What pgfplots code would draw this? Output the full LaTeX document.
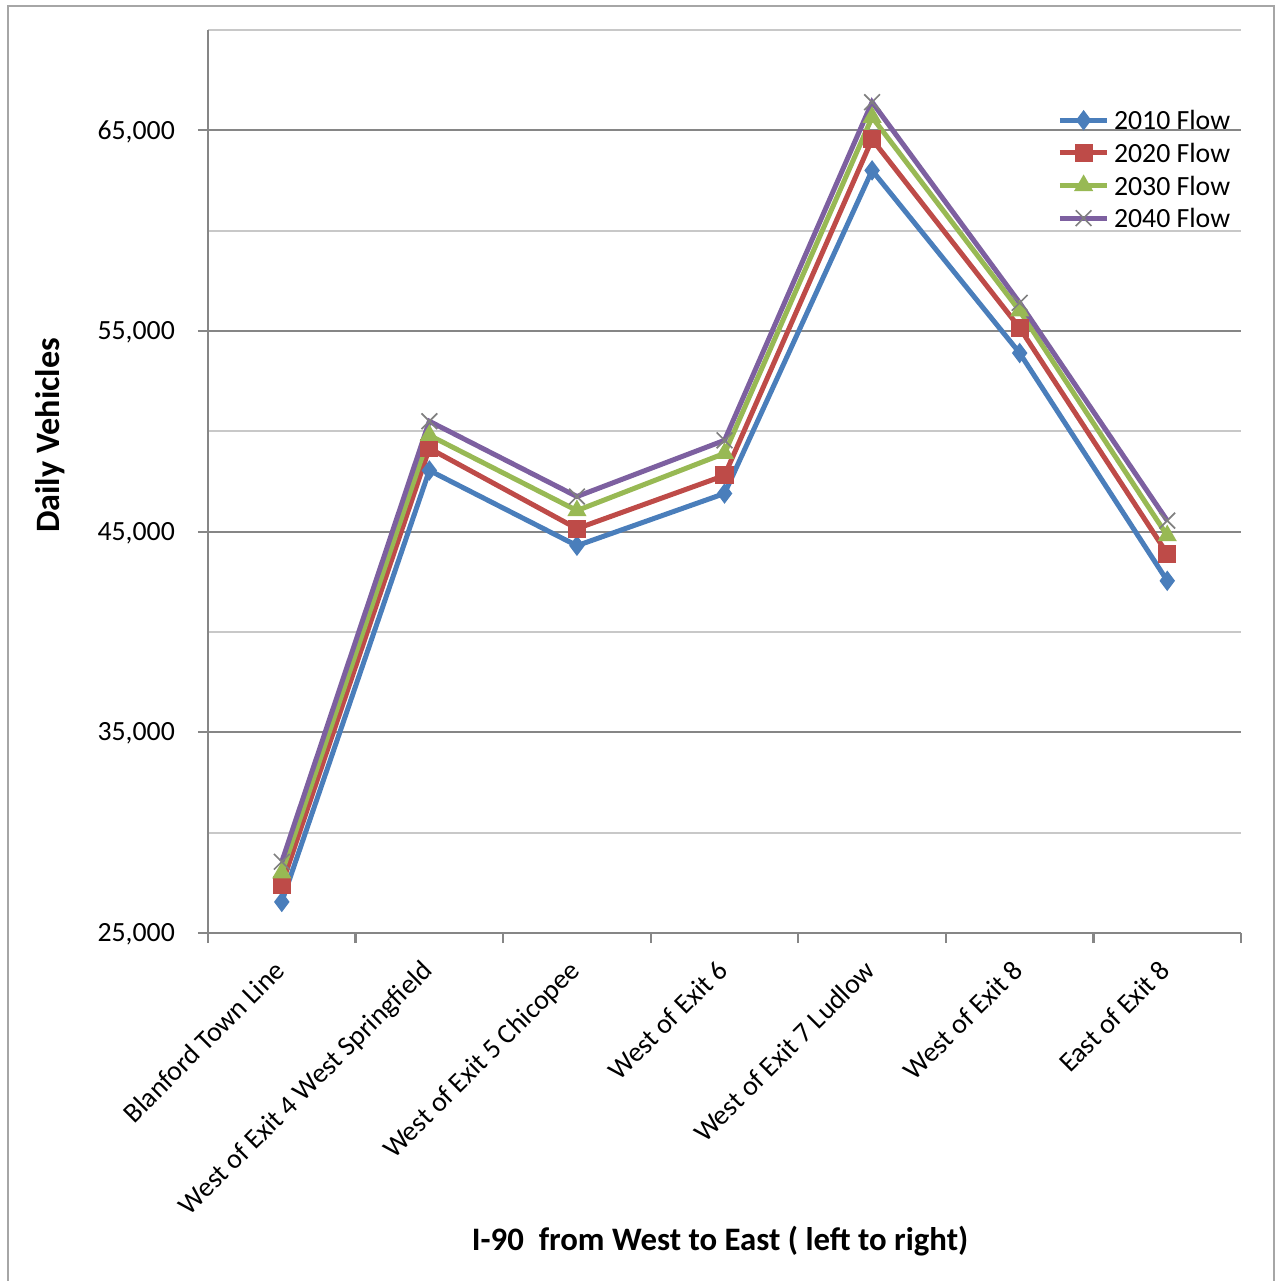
\documentclass[border=0pt]{standalone}
\usepackage{fontspec}
\setmainfont{Carlito}
\usepackage{pgfplots}
\pgfplotsset{compat=1.18}
\definecolor{s1}{HTML}{4A7EBB}
\definecolor{s2}{HTML}{BE4B48}
\definecolor{s3}{HTML}{98B954}
\definecolor{s4}{HTML}{7D60A0}
\definecolor{axgray}{HTML}{868686}
\definecolor{mingray}{HTML}{C8C8C8}
\definecolor{framegray}{HTML}{A6A6A6}
\begin{document}
\begin{tikzpicture}
\useasboundingbox (-74.88pt,-125.28pt) rectangle (384.12pt,335.88pt);
\draw[color=framegray, line width=0.9pt] (-72pt,-135pt) rectangle (383.76pt,333.72pt);
\begin{axis}[
  at={(0,0)}, anchor=south west,
  scale only axis, width=371.9pt, height=325.1pt,
  xmin=-0.5, xmax=6.5, ymin=25000, ymax=70000,
  axis x line*=bottom, axis y line*=left,
  axis line style={axgray, line width=0.8pt, -},
  xtick={-0.5,0.5,...,6.5}, x tick label as interval,
  xticklabels={Blanford Town Line, West of Exit 4 West Springfield, West of Exit 5 Chicopee, West of Exit 6, West of Exit 7 Ludlow, West of Exit 8, East of Exit 8},
  xticklabel style={rotate=45, anchor=north east, font=\fontsize{10}{12}\selectfont, inner sep=1pt, xshift=-5.1pt, yshift=-0.5pt},
  major tick length=3.6pt, tick align=outside, tick style={axgray, line width=0.8pt},
  ytick={25000,35000,...,65000}, minor ytick={30000,40000,...,70000}, minor tick length=0pt,
  ymajorgrids, yminorgrids,
  major grid style={axgray, line width=0.8pt}, minor grid style={mingray, line width=0.8pt},
  scaled y ticks=false,
  yticklabel style={font=\fontsize{10}{12}\selectfont, xshift=-4.8pt, yshift=-0.5pt, /pgf/number format/.cd, fixed, 1000 sep={,}, assume math mode=true},
  ylabel={Daily Vehicles},
  ylabel style={font=\bfseries\fontsize{12.3}{14}\selectfont, at={(axis description cs:-0.153,0.551)}, anchor=center},
  xlabel={I-90\ \ from West to East ( left to right)},
  xlabel style={font=\bfseries\fontsize{11.8}{14}\selectfont, at={(axis description cs:0.4957,-0.341)}, anchor=center},
  legend style={at={(axis description cs:0.994,0.916)}, anchor=north east, draw=none, fill=none,
    font=\fontsize{10}{12}\selectfont, inner sep=0pt, row sep=1.75pt,
    nodes={text height=7pt, text depth=0pt, inner sep=1.5pt}},
  legend cell align=left,
  legend image code/.code={\draw[mark repeat=2, mark phase=2, #1] plot coordinates {(0cm,0cm) (0.3cm,0cm) (0.6cm,0cm)};},
]
\addplot[s1, line width=1.8pt, mark=diamond*, mark size=3.3pt, mark options={solid, fill=s1, draw=s1, line width=0.5pt}]
  coordinates {(0,26550) (1,48050) (2,44300) (3,46900) (4,63000) (5,53900) (6,42550)};
\addlegendentry{2010 Flow}
\addplot[s2, line width=1.8pt, mark=square*, mark size=3pt, mark options={solid, fill=s2, draw=s2, line width=0.5pt}]
  coordinates {(0,27400) (1,49150) (2,45150) (3,47800) (4,64550) (5,55150) (6,43900)};
\addlegendentry{2020 Flow}
\addplot[s3, line width=1.8pt, mark=triangle*, mark size=3.5pt, mark options={solid, fill=s3, draw=s3, line width=0.5pt}]
  coordinates {(0,28000) (1,49800) (2,46050) (3,48900) (4,65650) (5,56000) (6,44800)};
\addlegendentry{2030 Flow}
\addplot[s4, line width=1.8pt, mark=x, mark size=4pt, mark options={solid, draw=gray, line width=0.6pt}]
  coordinates {(0,28550) (1,50500) (2,46750) (3,49550) (4,66400) (5,56400) (6,45550)};
\addlegendentry{2040 Flow}
\end{axis}
\end{tikzpicture}
\end{document}
